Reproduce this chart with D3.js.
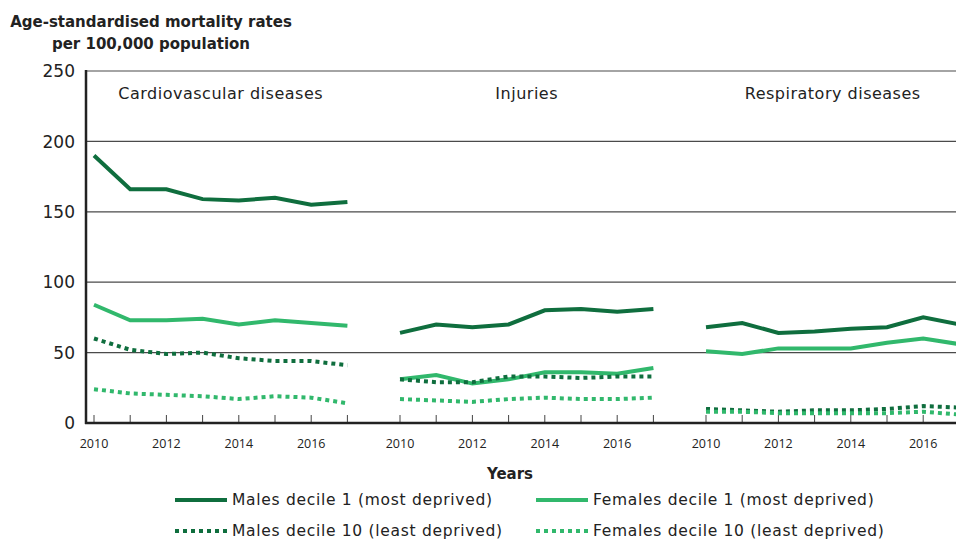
<!DOCTYPE html>
<html>
<head>
<meta charset="utf-8">
<script src="https://cdn.jsdelivr.net/npm/d3@7"></script>
<style>
  body { margin: 0; background: #fff; }
  svg { display: block; font-family: "DejaVu Sans", sans-serif; }
</style>
</head>
<body>
<svg width="956" height="543"></svg>
<script>
const years = [2010, 2011, 2012, 2013, 2014, 2015, 2016, 2017];
const panels = ["Cardiovascular diseases", "Injuries", "Respiratory diseases"];
const yTicks = [0, 50, 100, 150, 200, 250];
const xLabelYears = [2010, 2012, 2014, 2016];

// one array per panel, per series
const malesD1 = [
  [190, 166, 166, 159, 158, 160, 155, 157],
  [64, 70, 68, 70, 80, 81, 79, 81],
  [68, 71, 64, 65, 67, 68, 75, 70]
];
const femalesD1 = [
  [84, 73, 73, 74, 70, 73, 71, 69],
  [31, 34, 28, 31, 36, 36, 35, 39],
  [51, 49, 53, 53, 53, 57, 60, 56]
];
const malesD10 = [
  [60, 52, 49, 50, 46, 44, 44, 41],
  [31, 29, 29, 33, 33, 32, 33, 33],
  [10, 9, 8, 9, 9, 10, 12, 11]
];
const femalesD10 = [
  [24, 21, 20, 19, 17, 19, 18, 14],
  [17, 16, 15, 17, 18, 17, 17, 18],
  [8, 8, 7, 7, 7, 7, 8, 6]
];

const dark = "#0f6e3e", light = "#31b86c";
const series = [
  {name: "Males decile 1 (most deprived)", values: malesD1, color: dark, dash: null},
  {name: "Females decile 1 (most deprived)", values: femalesD1, color: light, dash: null},
  {name: "Males decile 10 (least deprived)", values: malesD10, color: dark, dash: "4,4"},
  {name: "Females decile 10 (least deprived)", values: femalesD10, color: light, dash: "4,4"}
];

let svg = d3.select("svg"),
    width = +svg.attr("width");

const plotLeft = 86, plotTop = 71, plotBottom = 423;

let y = d3.scaleLinear().domain([0, 250]).range([plotBottom, plotTop]);
let panelX = d3.scaleBand().domain(panels).range([plotLeft, plotLeft + 3 * 306]);
let yearX = d3.scaleLinear().domain([2010, 2017]).range([8, 8 + 7 * 36.2]);

function px(panel, year) {
    return panelX(panel) + yearX(year);
}

// gridlines
svg.append("g")
    .selectAll("line")
    .data(yTicks.slice(1))
    .enter().append("line")
    .attr("x1", plotLeft).attr("x2", width)
    .attr("y1", d => y(d)).attr("y2", d => y(d))
    .attr("stroke", "#4a4a4a")
    .attr("stroke-width", 1.2);

// y labels
svg.append("g")
    .selectAll("text")
    .data(yTicks)
    .enter().append("text")
    .attr("x", 75)
    .attr("y", d => y(d))
    .attr("dy", "0.36em")
    .attr("text-anchor", "end")
    .attr("font-size", 17)
    .attr("fill", "#222")
    .text(d => d);

// axis title
svg.append("text")
    .attr("x", 151).attr("y", 27)
    .attr("text-anchor", "middle")
    .attr("font-size", 15).attr("font-weight", 600).attr("fill", "#222")
    .text("Age-standardised mortality rates");
svg.append("text")
    .attr("x", 151).attr("y", 49)
    .attr("text-anchor", "middle")
    .attr("font-size", 15).attr("font-weight", 600).attr("fill", "#222")
    .text("per 100,000 population");

// panel titles
svg.append("g")
    .selectAll("text")
    .data(panels)
    .enter().append("text")
    .attr("x", d => panelX(d) + yearX(2013.5))
    .attr("y", 99)
    .attr("text-anchor", "middle")
    .attr("font-size", 16).attr("letter-spacing", 0.5).attr("fill", "#222")
    .text(d => d);

// x ticks (pointing up)
let tickData = [];
panels.forEach(p => years.forEach(yr => tickData.push({p: p, yr: yr})));
svg.append("g")
    .selectAll("line")
    .data(tickData)
    .enter().append("line")
    .attr("x1", d => px(d.p, d.yr)).attr("x2", d => px(d.p, d.yr))
    .attr("y1", plotBottom).attr("y2", plotBottom - 8)
    .attr("stroke", "#444")
    .attr("stroke-width", 1);

let labelData = [];
panels.forEach(p => xLabelYears.forEach(yr => labelData.push({p: p, yr: yr})));
svg.append("g")
    .selectAll("text")
    .data(labelData)
    .enter().append("text")
    .attr("x", d => px(d.p, d.yr))
    .attr("y", 448)
    .attr("text-anchor", "middle")
    .attr("font-family", "'Open Sans', sans-serif")
    .attr("font-size", 12.5).attr("fill", "#222")
    .text(d => d.yr);

// lines
let line = d3.line()
    .x(d => d.x)
    .y(d => y(d.v));

series.forEach(s => {
    panels.forEach((p, i) => {
        let pts = years.map((yr, j) => ({x: px(p, yr), v: s.values[i][j]}));
        svg.append("path")
            .datum(pts)
            .attr("d", line)
            .attr("fill", "none")
            .attr("stroke", s.color)
            .attr("stroke-width", 4)
            .attr("stroke-dasharray", s.dash);
    });
});

// axes
svg.append("line")
    .attr("x1", plotLeft).attr("x2", plotLeft)
    .attr("y1", plotTop - 1).attr("y2", plotBottom + 1)
    .attr("stroke", "#222").attr("stroke-width", 2.5);
svg.append("line")
    .attr("x1", plotLeft - 1).attr("x2", width)
    .attr("y1", plotBottom).attr("y2", plotBottom)
    .attr("stroke", "#222").attr("stroke-width", 2.5);

svg.append("text")
    .attr("x", 510).attr("y", 479)
    .attr("text-anchor", "middle")
    .attr("font-size", 15).attr("font-weight", 600).attr("fill", "#222")
    .text("Years");

// legend
let legend = svg.append("g")
    .selectAll("g")
    .data(series)
    .enter().append("g")
    .attr("transform", (d, i) => "translate(" + (i % 2 ? 536 : 175) + "," + (i < 2 ? 500 : 531) + ")");

legend.append("line")
    .attr("x1", 0).attr("x2", 52)
    .attr("stroke", d => d.color)
    .attr("stroke-width", 4)
    .attr("stroke-dasharray", d => d.dash);

legend.append("text")
    .attr("x", 57)
    .attr("dy", "0.35em")
    .attr("font-size", 15.5).attr("letter-spacing", 0.7).attr("fill", "#222")
    .text(d => d.name);
</script>
</body>
</html>
